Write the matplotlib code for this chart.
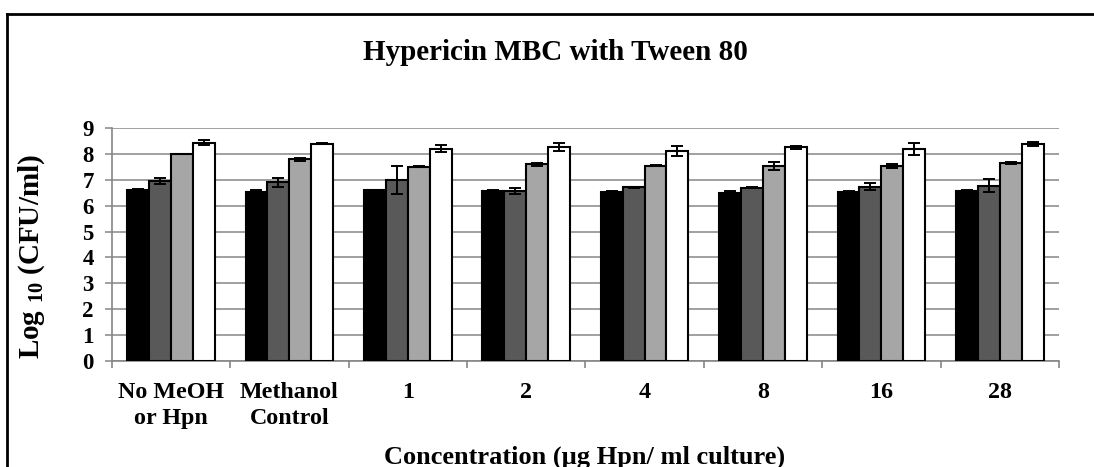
"""Hypericin MBC with Tween 80: grouped bar chart with error bars."""
import numpy as np
import matplotlib
matplotlib.use("Agg")
import matplotlib.pyplot as plt
from matplotlib.lines import Line2D

plt.rcParams["font.family"] = ["Liberation Serif", "DejaVu Serif"]
plt.rcParams["font.weight"] = "bold"
plt.rcParams["mathtext.fontset"] = "custom"
plt.rcParams["mathtext.rm"] = "Liberation Serif:bold"
plt.rcParams["mathtext.it"] = "Liberation Serif:bold"
plt.rcParams["mathtext.bf"] = "Liberation Serif:bold"

categories = ["No MeOH\nor Hpn", "Methanol\nControl", "1", "2", "4", "8", "16", "28"]

# four series (time points), black -> dark grey -> light grey -> white
series_1 = [6.61, 6.52, 6.60, 6.57, 6.54, 6.50, 6.53, 6.58]
series_2 = [6.95, 6.90, 7.00, 6.57, 6.71, 6.70, 6.74, 6.77]
series_3 = [8.00, 7.79, 7.51, 7.60, 7.55, 7.54, 7.55, 7.66]
series_4 = [8.44, 8.39, 8.21, 8.26, 8.12, 8.26, 8.19, 8.39]

err_1 = [0.02, 0.10, 0.02, 0.02, 0.02, 0.06, 0.02, 0.02]
err_2 = [0.12, 0.17, 0.53, 0.10, 0.03, 0.02, 0.14, 0.25]
err_3 = [0.01, 0.05, 0.02, 0.05, 0.03, 0.15, 0.08, 0.03]
err_4 = [0.10, 0.02, 0.15, 0.16, 0.20, 0.06, 0.22, 0.08]

colors = ["#000000", "#595959", "#a6a6a6", "#ffffff"]

W, H = 1094, 467
fig = plt.figure(figsize=(W / 100, H / 100), dpi=100)
ax = fig.add_axes([111.7 / W, 1 - 360.7 / H, (1059 - 111.7) / W, (360.7 - 128.2) / H])

x = np.arange(len(categories))
bw = 0.185
all_vals = [series_1, series_2, series_3, series_4]
all_errs = [err_1, err_2, err_3, err_4]
for i, (vals, errs, c) in enumerate(zip(all_vals, all_errs, colors)):
    ax.bar(x + (i - 1.5) * bw, vals, bw, color=c, edgecolor="black",
           linewidth=1.5, zorder=3)
    ax.errorbar(x + (i - 1.5) * bw, vals, yerr=errs, fmt="none",
                ecolor="black", elinewidth=1.4, capsize=4.5, capthick=1.4,
                zorder=4)

grid_c = "#a0a0a0"
ax.set_xlim(-0.5, len(categories) - 0.5)
ax.set_ylim(0, 9)
ax.set_yticks(range(10))
ax.yaxis.grid(True, color=grid_c, linewidth=1.4, zorder=0)
ax.set_axisbelow(True)
for s in ["top", "right"]:
    ax.spines[s].set_visible(False)
for s in ["left", "bottom"]:
    ax.spines[s].set_color("#868686")
    ax.spines[s].set_linewidth(1.2)

ax.set_xticks(x)
ax.set_xticklabels(categories, fontsize=17.3, fontweight="bold", linespacing=1.3)
ax.set_xticks(np.arange(-0.5, len(categories)), minor=True)
ax.tick_params(axis="x", which="major", length=0, pad=15.5)
ax.tick_params(axis="x", which="minor", length=5, width=1.2, color="#868686",
               direction="out")
ax.tick_params(axis="y", length=5, width=1.4, color=grid_c, direction="out",
               labelsize=16.5, pad=8)
for lab in ax.get_yticklabels():
    lab.set_fontweight("bold")

ax.set_ylabel(r"Log $_{10}$ (CFU/ml)", fontsize=21, fontweight="bold")
ax.yaxis.set_label_coords(-0.068, 0.45)

fig.text(585 / W, 1 - 457 / H, "Concentration (µg Hpn/ ml culture)",
         ha="center", va="center", fontsize=19, fontweight="bold")
fig.text(555 / W, 1 - 52 / H, "Hypericin MBC with Tween 80",
         ha="center", va="center", fontsize=21, fontweight="bold")

# outer chart frame (only top and left edges are inside the image)
fig.add_artist(Line2D([7 / W, 7 / W], [0, 1 - 14 / H], transform=fig.transFigure,
                      color="black", linewidth=2.0))
fig.add_artist(Line2D([7 / W, 1], [1 - 14 / H, 1 - 14 / H], transform=fig.transFigure,
                      color="black", linewidth=2.0))

fig.savefig("out.png", dpi=100)
